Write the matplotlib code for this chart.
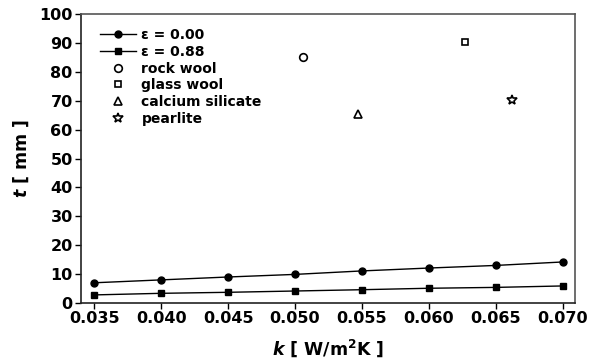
import matplotlib.pyplot as plt

# conductivity k [W/m2K]
k = [0.035, 0.040, 0.045, 0.050, 0.055, 0.060, 0.065, 0.070]
t_eps000 = [7.0, 8.0, 9.0, 9.9, 11.1, 12.1, 13.0, 14.2]
t_eps088 = [2.8, 3.35, 3.7, 4.15, 4.6, 5.1, 5.4, 5.9]

# measured insulations
mat_names = ["rock wool", "glass wool", "calcium silicate", "pearlite"]
mat_k = [0.0506, 0.0627, 0.0547, 0.0662]
mat_t = [85.0, 90.2, 65.3, 70.2]
mat_markers = ["o", "s", "^", "*"]
mat_sizes = [5.5, 5, 5.5, 7]

plt.rcParams['font.family'] = ['DejaVu Sans']
plt.rcParams['font.weight'] = 'bold'

fig = plt.figure(figsize=(5.89, 3.62), dpi=100)
ax = fig.add_axes([0.1375, 0.163, 0.838, 0.798])

ax.plot(k, t_eps000, color='black', lw=1, marker='o', ms=5, label="ε = 0.00")
ax.plot(k, t_eps088, color='black', lw=1, marker='s', ms=4.5, label="ε = 0.88")
for name, x, y, m, sz in zip(mat_names, mat_k, mat_t, mat_markers, mat_sizes):
    ax.plot([x], [y], ls='none', marker=m, ms=sz, mfc='white', mec='black',
            mew=1.2, label=name)

ax.set_xlim(0.0340, 0.0709)
ax.set_ylim(0, 100)
ax.set_xticks(k)
ax.set_xticklabels([f"{v:.3f}" for v in k])
ax.set_yticks(range(0, 101, 10))

ax.tick_params(direction='out', length=4, width=1, labelsize=11.5, pad=2)
for side in ['left', 'bottom']:
    ax.spines[side].set_color('#222222')
for side in ['top', 'right']:
    ax.spines[side].set_color('#555555')
for s in ax.spines.values():
    s.set_linewidth(1.2)

ax.set_xlabel(r"$\boldsymbol{k}$ [ W/m$^\mathbf{2}$K ]", fontsize=12.5, fontweight='bold', labelpad=8)
ax.set_ylabel(r"$\boldsymbol{t}$ [ mm ]", fontsize=12.5, fontweight='bold', labelpad=6)

ax.legend(loc='upper left', frameon=False, fontsize=10, handlelength=2.6,
          numpoints=1, labelspacing=0.2, borderaxespad=0.6, handletextpad=0.4,
          bbox_to_anchor=(0.01, 1.0))

fig.savefig("out.png", dpi=100)
